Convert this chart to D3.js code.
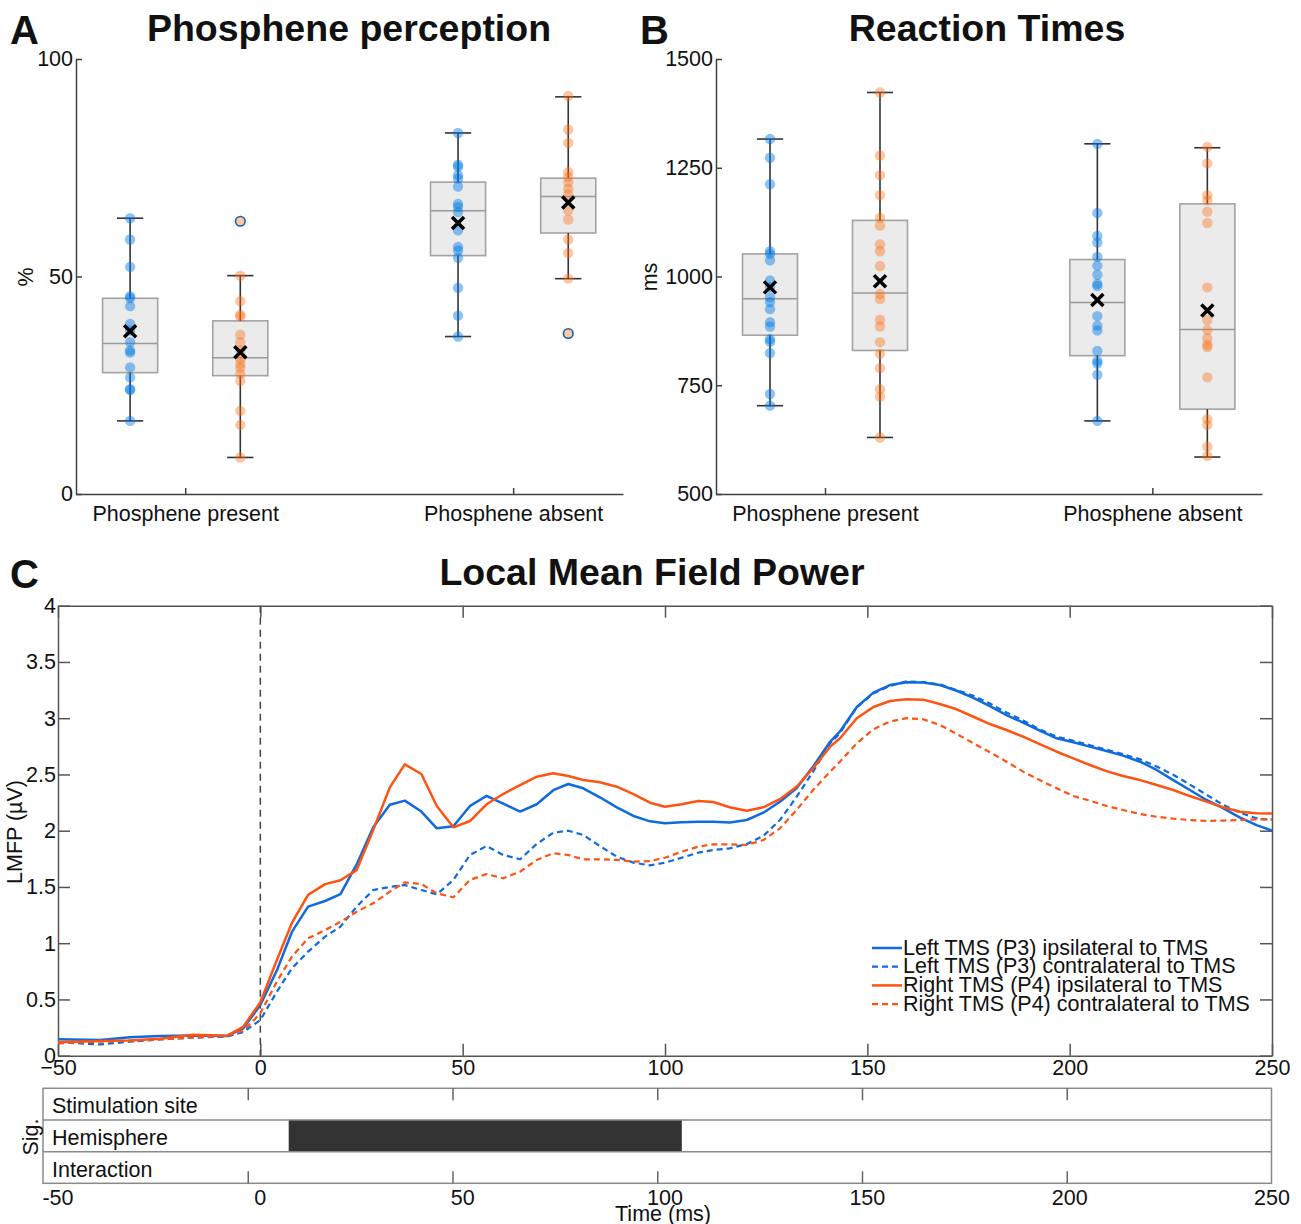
<!DOCTYPE html>
<html>
<head>
<meta charset="utf-8">
<script src="https://cdn.jsdelivr.net/npm/d3@7"></script>
<style>
  body { margin: 0; background: #fff; }
  svg { display: block; }
</style>
</head>
<body>
<div id="chart"></div>
<script>
// ---------------- data ----------------
const groups = ["Phosphene present", "Phosphene absent"];
// box order: [present-left, present-right, absent-left, absent-right]

// A: phosphene perception (%)
const phosPoints = [
  [63.4, 58.5, 52.2, 45.5, 45.0, 43.2, 39.1, 37.6, 34.9, 33.0, 32.5, 29.1, 26.8, 24.1, 23.9, 16.8],
  [50.2, 44.3, 41.2, 40.8, 36.6, 34.9, 33.0, 31.0, 29.9, 29.0, 27.6, 26.0, 19.1, 15.9, 8.4],
  [83.0, 75.7, 75.2, 73.3, 72.5, 70.7, 66.7, 66.0, 64.8, 60.6, 56.8, 56.0, 54.3, 47.4, 41.0, 36.2],
  [91.5, 83.8, 80.7, 74.0, 72.9, 71.7, 70.2, 68.9, 65.2, 63.1, 58.5, 55.4, 49.5]
];
const phosBoxes = [ // [low whisker, q1, median, q3, high whisker]
  [16.8, 27.9, 34.6, 45.0, 63.4],
  [8.4, 27.2, 31.3, 39.8, 50.2],
  [36.2, 54.8, 65.1, 71.7, 83.0],
  [49.5, 60.0, 68.4, 72.6, 91.3]
];
const phosMeans = [37.4, 32.6, 62.3, 67.0];
const phosOutliers = [[], [62.7], [], [36.9]];

// B: reaction times (ms)
const rtPoints = [
  [1316, 1273, 1212, 1058, 1052, 1037, 991, 975, 952, 941, 925, 895, 885, 856, 850, 824, 730, 703],
  [1423, 1278, 1233, 1187, 1135, 1117, 1074, 1058, 1024, 960, 948, 900, 885, 849, 822, 789, 741, 724, 630],
  [1305, 1146, 1093, 1078, 1045, 1025, 1004, 983, 978, 909, 887, 876, 829, 806, 800, 774, 668],
  [1298, 1260, 1187, 1175, 1149, 1123, 975, 900, 877, 858, 843, 838, 768, 672, 659, 609, 587]
];
const rtBoxes = [
  [703, 865, 949, 1052, 1316],
  [630, 830, 962, 1129, 1423],
  [668, 818, 940, 1039, 1305],
  [585, 695, 878, 1167, 1296]
];
const rtMeans = [975, 989, 946, 922];
const rtOutliers = [[], [], [], []];

// C: local mean field power (µV)
const lmfpTime = [-50, -39.6, -32.2, -24.8, -16.6, -8.3, -4.2, 0, 4.1, 7.8, 11.8, 16, 19.8, 23.8, 27.9, 32, 35.7, 39.8,
  43.6, 47.7, 51.8, 55.9, 60, 64.2, 68.3, 72.4, 76.1, 79.8, 83.9, 88.1, 92.2, 96.3, 100, 104.1, 108.2, 111.9, 116, 120.2,
  124.3, 128.4, 132.5, 136.6, 140.8, 143.2, 147.4, 151.5, 155.6, 159.7, 163.8, 167.9, 172.1, 176.2, 180.3, 184.4, 188.5,
  192.6, 196.8, 200.9, 205, 209.1, 213.2, 217.4, 221.5, 225.6, 229.7, 233.8, 237.9, 242.1, 246.2, 250];
const leftIpsi = [0.146, 0.14, 0.163, 0.175, 0.18, 0.175, 0.243, 0.45, 0.76, 1.10, 1.325, 1.375, 1.437, 1.70, 2.03, 2.23, 2.267, 2.17,
  2.021, 2.04, 2.22, 2.31, 2.24, 2.17, 2.235, 2.36, 2.415, 2.377, 2.297, 2.208, 2.131, 2.083, 2.066, 2.075, 2.08, 2.08, 2.072, 2.095,
  2.16, 2.258, 2.377, 2.57, 2.79, 2.88, 3.10, 3.227, 3.295, 3.32, 3.318, 3.295, 3.244, 3.18, 3.108, 3.028, 2.96,
  2.889, 2.821, 2.786, 2.747, 2.708, 2.667, 2.613, 2.54, 2.45, 2.362, 2.273, 2.2, 2.116, 2.05, 2.0];
const leftContra = [0.12, 0.10, 0.125, 0.145, 0.16, 0.17, 0.21, 0.317, 0.57, 0.777, 0.925, 1.058, 1.147, 1.325, 1.473, 1.50, 1.517, 1.473,
  1.434, 1.562, 1.784, 1.864, 1.784, 1.746, 1.882, 1.982, 2.0, 1.962, 1.864, 1.769, 1.716, 1.692, 1.716, 1.76, 1.805, 1.828, 1.843, 1.882,
  1.953, 2.095, 2.30, 2.525, 2.777, 2.865, 3.097, 3.22, 3.287, 3.328, 3.32, 3.30, 3.25, 3.20, 3.13, 3.05, 2.98,
  2.90, 2.835, 2.80, 2.76, 2.72, 2.68, 2.634, 2.57, 2.497, 2.41, 2.32, 2.23, 2.16, 2.11, 2.095];
const rightIpsi = [0.12, 0.13, 0.135, 0.15, 0.187, 0.177, 0.257, 0.475, 0.85, 1.18, 1.43, 1.525, 1.56, 1.65, 2.006, 2.385, 2.59, 2.504,
  2.22, 2.03, 2.086, 2.235, 2.326, 2.406, 2.48, 2.51, 2.486, 2.45, 2.43, 2.391, 2.326, 2.249, 2.213, 2.235, 2.264, 2.255, 2.208, 2.178,
  2.208, 2.28, 2.391, 2.555, 2.747, 2.82, 3.0, 3.10, 3.153, 3.168, 3.165, 3.126, 3.079, 3.013, 2.948, 2.895, 2.836,
  2.77, 2.702, 2.643, 2.584, 2.53, 2.486, 2.45, 2.406, 2.362, 2.308, 2.258, 2.208, 2.169, 2.155, 2.152];
const rightContra = [0.11, 0.125, 0.135, 0.145, 0.16, 0.18, 0.22, 0.377, 0.66, 0.88, 1.043, 1.117, 1.19, 1.28, 1.355, 1.458, 1.541, 1.526,
  1.444, 1.408, 1.562, 1.615, 1.577, 1.636, 1.74, 1.80, 1.784, 1.746, 1.746, 1.74, 1.725, 1.73, 1.76, 1.813, 1.858, 1.879, 1.879, 1.873,
  1.917, 2.021, 2.184, 2.362, 2.525, 2.613, 2.777, 2.901, 2.97, 3.0, 2.99, 2.94, 2.86, 2.777, 2.697, 2.613, 2.525,
  2.45, 2.377, 2.308, 2.267, 2.22, 2.184, 2.148, 2.124, 2.107, 2.095, 2.087, 2.09, 2.095, 2.1, 2.1];
const legendLabels = [
  "Left TMS (P3) ipsilateral to TMS",
  "Left TMS (P3) contralateral to TMS",
  "Right TMS (P4) ipsilateral to TMS",
  "Right TMS (P4) contralateral to TMS"
];
const timeTicks = [-50, 0, 50, 100, 150, 200, 250];
const lmfpTicks = [0, 0.5, 1, 1.5, 2, 2.5, 3, 3.5, 4];

// significance strip
const sigRows = ["Stimulation site", "Hemisphere", "Interaction"];
const sigIntervals = [[], [[10, 106]], []];

// ---------------- style ----------------
const FONT = '"Liberation Sans", Arial, Helvetica, sans-serif';
const FS = 21.5;
const BLUE = "#0f6ade", ORANGE = "#ff5312";
const DOT_FILL = ["rgba(0,122,230,0.45)", "rgba(255,110,20,0.4)"];
const AXIS = "#404040";

const svg = d3.select("#chart").append("svg")
  .attr("width", 1301).attr("height", 1224)
  .attr("font-family", FONT);

function styleAxis(g, color) {
  g.attr("font-family", FONT).attr("font-size", FS);
  g.select(".domain").attr("stroke", color).attr("stroke-width", 1.5);
  g.selectAll(".tick line").attr("stroke", color).attr("stroke-width", 1.5);
  g.selectAll(".tick text").attr("fill", "#111");
}

function heading(x, y, txt, size, anchor) {
  svg.append("text").attr("x", x).attr("y", y).attr("text-anchor", anchor || "start")
    .attr("font-weight", "bold").attr("font-size", size).attr("fill", "#111").text(txt);
}

function rotLabel(x, y, txt) {
  svg.append("text").attr("transform", `translate(${x},${y}) rotate(-90)`)
    .attr("text-anchor", "middle").attr("font-size", FS).attr("fill", "#111").text(txt);
}

// ---------------- box panels ----------------
function drawBoxPanel(opt) {
  const x = d3.scaleLinear().domain([0.667, 2.335]).range([opt.left, opt.right]);
  const y = d3.scaleLinear().domain(opt.domain).range([494, 59]);
  const off = 0.168, halfW = 0.084, cap = 0.04;
  const g = svg.append("g");

  g.append("g").attr("transform", "translate(0,494)")
    .call(d3.axisBottom(x).tickValues([1, 2]).tickFormat((d, i) => groups[i])
      .tickSizeInner(-6).tickSizeOuter(0).tickPadding(12))
    .call(a => styleAxis(a, AXIS));
  g.append("g").attr("transform", `translate(${opt.left},0)`)
    .call(d3.axisLeft(y).tickValues(opt.ticks).tickFormat(d => d).tickSizeInner(-6).tickSizeOuter(0).tickPadding(3))
    .call(a => styleAxis(a, AXIS));

  opt.boxes.forEach((b, i) => {
    const c = i % 2;
    const cx = x(Math.floor(i / 2) + 1 + (c ? off : -off));
    const bw = x(1 + halfW) - x(1), cw = x(1 + cap) - x(1);
    const box = g.append("g");
    box.append("rect").attr("x", cx - bw).attr("width", 2 * bw)
      .attr("y", y(b[3])).attr("height", y(b[1]) - y(b[3]))
      .attr("fill", "#ebebeb").attr("stroke", "#a3a3a3").attr("stroke-width", 1.6);
    box.append("line").attr("x1", cx - bw).attr("x2", cx + bw).attr("y1", y(b[2])).attr("y2", y(b[2]))
      .attr("stroke", "#999").attr("stroke-width", 1.5);
    [[b[0], b[1]], [b[4], b[3]]].forEach(([w, q]) => {
      box.append("line").attr("x1", cx).attr("x2", cx).attr("y1", y(w)).attr("y2", y(q))
        .attr("stroke", "#333").attr("stroke-width", 1.6);
      box.append("line").attr("x1", cx - cw).attr("x2", cx + cw).attr("y1", y(w)).attr("y2", y(w))
        .attr("stroke", "#333").attr("stroke-width", 1.6);
    });
    box.selectAll("circle.pt").data(opt.points[i]).join("circle").attr("class", "pt")
      .attr("cx", cx).attr("cy", d => y(d)).attr("r", 5.2).attr("fill", DOT_FILL[c]);
    box.selectAll("circle.out").data(opt.outliers[i]).join("circle").attr("class", "out")
      .attr("cx", cx).attr("cy", d => y(d)).attr("r", 4.8)
      .attr("fill", "#ffc8a2").attr("stroke", "#1060b0").attr("stroke-width", 1.6);
    const m = y(opt.means[i]);
    box.append("path").attr("d", `M${cx - 6},${m - 6}L${cx + 6},${m + 6}M${cx - 6},${m + 6}L${cx + 6},${m - 6}`)
      .attr("stroke", "#000").attr("stroke-width", 3.5).attr("fill", "none");
  });

  rotLabel(opt.labelX, 277, opt.ylabel);
  heading(opt.letterX, 44, opt.letter, 40);
  heading(opt.titleX, 41, opt.title, 37.5, "middle");
}

drawBoxPanel({ left: 76, right: 623, domain: [0, 100], ticks: [0, 50, 100],
  points: phosPoints, boxes: phosBoxes, means: phosMeans, outliers: phosOutliers,
  ylabel: "%", labelX: 33, letter: "A", letterX: 10, title: "Phosphene perception", titleX: 349 });
drawBoxPanel({ left: 716, right: 1262, domain: [500, 1500], ticks: [500, 750, 1000, 1250, 1500],
  points: rtPoints, boxes: rtBoxes, means: rtMeans, outliers: rtOutliers,
  ylabel: "ms", labelX: 657, letter: "B", letterX: 640, title: "Reaction Times", titleX: 987 });

// ---------------- LMFP panel ----------------
const xC = d3.scaleLinear().domain([-50, 250]).range([58, 1272]);
const yC = d3.scaleLinear().domain([0, 4]).range([1055.7, 605.7]);
const gC = svg.append("g");
const BOX_C = "#555";

gC.append("g").attr("transform", "translate(0,1055.7)")
  .call(d3.axisBottom(xC).tickValues(timeTicks).tickSizeInner(-12).tickSizeOuter(0).tickPadding(4))
  .call(a => styleAxis(a, BOX_C));
gC.append("g").attr("transform", "translate(0,605.7)")
  .call(d3.axisTop(xC).tickValues(timeTicks).tickFormat("").tickSizeInner(-12).tickSizeOuter(0))
  .call(a => styleAxis(a, BOX_C));
gC.append("g").attr("transform", "translate(58,0)")
  .call(d3.axisLeft(yC).tickValues(lmfpTicks).tickFormat(d => d).tickSizeInner(-12).tickSizeOuter(0).tickPadding(2))
  .call(a => styleAxis(a, BOX_C));
gC.append("g").attr("transform", "translate(1272,0)")
  .call(d3.axisRight(yC).tickValues(lmfpTicks).tickFormat("").tickSizeInner(-12).tickSizeOuter(0))
  .call(a => styleAxis(a, BOX_C));

gC.append("line").attr("x1", xC(0)).attr("x2", xC(0)).attr("y1", yC(4)).attr("y2", yC(0))
  .attr("stroke", "#444").attr("stroke-width", 1.5).attr("stroke-dasharray", "7,5");

const seriesC = [
  { values: leftIpsi, color: BLUE, dash: null },
  { values: leftContra, color: BLUE, dash: "6,4" },
  { values: rightIpsi, color: ORANGE, dash: null },
  { values: rightContra, color: ORANGE, dash: "6,4" }
];
const line = d3.line().x(d => xC(d[0])).y(d => yC(d[1]));
seriesC.forEach(s => {
  gC.append("path").datum(lmfpTime.map((t, i) => [t, s.values[i]]))
    .attr("d", line).attr("fill", "none").attr("stroke", s.color)
    .attr("stroke-width", s.dash ? 2.2 : 2.5).attr("stroke-dasharray", s.dash)
    .attr("stroke-linejoin", "round");
});

const legend = gC.append("g").attr("transform", "translate(872,948)");
seriesC.forEach((s, i) => {
  const row = legend.append("g").attr("transform", `translate(0,${i * 18.7})`);
  row.append("line").attr("x1", 0).attr("x2", 30).attr("stroke", s.color)
    .attr("stroke-width", s.dash ? 2.2 : 2.5).attr("stroke-dasharray", s.dash);
  row.append("text").attr("x", 31).attr("y", 6.5).attr("font-size", FS).attr("fill", "#111")
    .text(legendLabels[i]);
});

rotLabel(22, 832, "LMFP (\u00b5V)");
heading(10, 588, "C", 40);
heading(652, 585, "Local Mean Field Power", 37.5, "middle");

// ---------------- significance strip ----------------
const xS = d3.scaleLinear().domain([-50, 250]).range([43, 1271.5]);
const yS = d3.scaleBand().domain(sigRows).range([1088.3, 1183.3]);
const gS = svg.append("g");

sigRows.forEach((r, i) => {
  gS.selectAll(null).data(sigIntervals[i]).join("rect")
    .attr("x", d => xS(d[0])).attr("width", d => xS(d[1]) - xS(d[0]))
    .attr("y", yS(r)).attr("height", yS.bandwidth()).attr("fill", "#333");
  gS.append("text").attr("x", 52).attr("y", yS(r) + 25).attr("font-size", FS).attr("fill", "#111").text(r);
});
gS.selectAll("line.row").data(sigRows.slice(1)).join("line").attr("class", "row")
  .attr("x1", xS(-50)).attr("x2", xS(250)).attr("y1", d => yS(d)).attr("y2", d => yS(d))
  .attr("stroke", "#8a8a8a").attr("stroke-width", 1.5);
gS.append("rect").attr("x", xS(-50)).attr("y", 1088.3).attr("width", xS(250) - xS(-50)).attr("height", 95)
  .attr("fill", "none").attr("stroke", "#8a8a8a").attr("stroke-width", 1.5);
gS.append("g").attr("transform", "translate(0,1088.3)")
  .call(d3.axisTop(xS).tickValues(timeTicks.slice(1, -1)).tickFormat("").tickSizeInner(-12).tickSizeOuter(0))
  .call(a => { styleAxis(a, "#666"); a.select(".domain").remove(); });
gS.append("g").attr("transform", "translate(0,1183.3)")
  .call(d3.axisBottom(xS).tickValues(timeTicks.slice(1, -1)).tickFormat("").tickSizeInner(-12).tickSizeOuter(0))
  .call(a => { styleAxis(a, "#666"); a.select(".domain").remove(); });
// tick labels follow the upper panel's time positions
gS.selectAll("text.tl").data(timeTicks).join("text").attr("class", "tl")
  .attr("x", d => xC(d)).attr("y", 1205).attr("text-anchor", "middle")
  .attr("font-size", FS).attr("fill", "#111").text(d => d);
gS.append("text").attr("x", 663).attr("y", 1221).attr("text-anchor", "middle")
  .attr("font-size", FS).attr("fill", "#111").text("Time (ms)");
rotLabel(38, 1137, "Sig.");
</script>
</body>
</html>
